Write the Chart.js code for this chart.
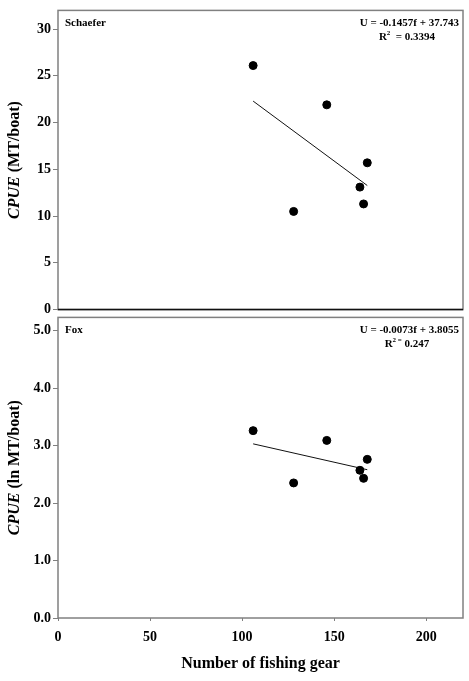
<!DOCTYPE html>
<html>
<head>
<meta charset="utf-8">
<script src="https://cdn.jsdelivr.net/npm/chart.js@4.4.0/dist/chart.umd.min.js"></script>
<style>
  html, body { margin: 0; padding: 0; background: #fff; }
  #wrap { position: relative; width: 469px; height: 681px; overflow: hidden; }
  canvas { position: absolute; left: 0; }
  #topChart { top: 0; }
  #bottomChart { top: 307px; }
</style>
</head>
<body>
<div id="wrap">
  <canvas id="topChart" width="469" height="320"></canvas>
  <canvas id="bottomChart" width="469" height="374"></canvas>
</div>
<script>
// Data
const gearCount = [106, 128, 146, 164, 166, 168];
const cpueSchaefer = [26.1, 10.5, 21.9, 13.1, 11.3, 15.7];   // MT/boat
const cpueFox = [3.26, 2.35, 3.09, 2.57, 2.43, 2.76];        // ln MT/boat

// Fitted lines (end points as drawn)
const trendGear = [106, 168];
const trendSchaefer = [22.3, 13.27];
const trendFox = [3.03, 2.58];

const xTicks = [0, 50, 100, 150, 200];
const schaeferTicks = [0, 5, 10, 15, 20, 25, 30];
const foxTicks = [0, 1, 2, 3, 4, 5];

const SERIF = "'Liberation Serif', 'Times New Roman', serif";
const FRAME = '#808080';

const toPoints = (xs, ys) => xs.map((x, i) => ({ x: x, y: ys[i] }));

// draw text made of several styled pieces
const drawRuns = (ctx, runs, x, y, align) => {
    let total = 0;
    runs.forEach(r => { ctx.font = r.font; r.w = ctx.measureText(r.text).width; total += r.w; });
    let cx = align === 'right' ? x - total : align === 'center' ? x - total / 2 : x;
    ctx.textBaseline = 'middle';
    ctx.textAlign = 'left';
    runs.forEach(r => {
        ctx.font = r.font;
        ctx.fillText(r.text, cx, y + (r.dy || 0));
        cx += r.w;
    });
};

const framePlugin = {
    id: 'frame',
    afterDraw(chart, args, opts) {
        const { ctx, chartArea: a } = chart;
        ctx.save();
        ctx.strokeStyle = FRAME;
        ctx.lineWidth = 1.5;
        ctx.strokeRect(a.left, a.top, a.right - a.left, a.bottom - a.top);
        if (opts.darkBottom) {
            ctx.strokeStyle = '#111';
            ctx.beginPath();
            ctx.moveTo(a.left, a.bottom);
            ctx.lineTo(a.right, a.bottom);
            ctx.stroke();
        }
        ctx.fillStyle = '#000';

        // y axis title, rotated
        ctx.save();
        ctx.translate(15, (a.top + a.bottom) / 2);
        ctx.rotate(-Math.PI / 2);
        drawRuns(ctx, [
            { text: 'CPUE', font: 'italic bold 16px ' + SERIF },
            { text: ' ' + opts.yUnit, font: 'bold 16px ' + SERIF }
        ], 0, 0, 'center');
        ctx.restore();

        // panel name and fitted equation
        drawRuns(ctx, [{ text: opts.name, font: 'bold 11px ' + SERIF }], a.left + 7, a.top + 13, 'left');
        drawRuns(ctx, [{ text: opts.equation, font: 'bold 11px ' + SERIF }], a.right - 4, a.top + 13, 'right');
        drawRuns(ctx, [
            { text: 'R', font: 'bold 11px ' + SERIF },
            { text: opts.rSup, font: 'bold 7px ' + SERIF, dy: -4 },
            { text: opts.rRest, font: 'bold 11px ' + SERIF }
        ], a.right - 56, a.top + 27, 'center');
        ctx.restore();
    }
};

const makeChart = (id, cfg) => new Chart(document.getElementById(id), {
    type: 'scatter',
    data: {
        datasets: [
            {
                data: toPoints(gearCount, cfg.values),
                backgroundColor: '#000',
                borderColor: '#000',
                pointRadius: 4,
                pointHoverRadius: 4
            },
            {
                type: 'line',
                data: toPoints(trendGear, cfg.trend),
                borderColor: '#111',
                borderWidth: 1,
                pointRadius: 0,
                fill: false
            }
        ]
    },
    options: {
        responsive: false,
        animation: false,
        layout: { padding: cfg.padding },
        plugins: {
            legend: { display: false },
            tooltip: { enabled: false },
            frame: cfg.frame
        },
        scales: {
            x: {
                type: 'linear',
                min: 0,
                max: 220,
                display: cfg.showX,
                afterBuildTicks: s => { s.ticks = xTicks.map(v => ({ value: v })); },
                afterFit: s => { if (cfg.showX) s.height = 63; },
                grid: { drawOnChartArea: false, tickLength: 3, color: FRAME },
                border: { display: false },
                ticks: {
                    color: '#000',
                    padding: 8,
                    font: { family: SERIF, size: 14, weight: 'bold' }
                },
                title: {
                    display: true,
                    text: 'Number of fishing gear',
                    color: '#000',
                    padding: { top: 1, bottom: 8 },
                    font: { family: SERIF, size: 16, weight: 'bold' }
                }
            },
            y: {
                type: 'linear',
                min: 0,
                max: cfg.yMax,
                afterBuildTicks: s => { s.ticks = cfg.yTicks.map(v => ({ value: v })); },
                afterFit: s => { s.width = 58; },
                grid: { drawOnChartArea: false, tickLength: 5, color: FRAME },
                border: { display: false },
                ticks: {
                    color: '#000',
                    padding: 2,
                    font: { family: SERIF, size: 14, weight: 'bold' },
                    callback: cfg.fmt
                }
            }
        }
    },
    plugins: [framePlugin]
});

makeChart('topChart', {
    values: cpueSchaefer,
    trend: trendSchaefer,
    yMax: 32,
    yTicks: schaeferTicks,
    fmt: v => String(v),
    showX: false,
    padding: { left: 0, right: 6, top: 10, bottom: 3 },
    frame: {
        darkBottom: true,
        yUnit: '(MT/boat)',
        name: 'Schaefer',
        equation: 'U = -0.1457f + 37.743',
        rSup: '2',
        rRest: '  = 0.3394'
    }
});

makeChart('bottomChart', {
    values: cpueFox,
    trend: trendFox,
    yMax: 5.23,
    yTicks: foxTicks,
    fmt: v => v.toFixed(1),
    showX: true,
    padding: { left: 0, right: 6, top: 5, bottom: 0 },
    frame: {
        darkBottom: false,
        yUnit: '(ln MT/boat)',
        name: 'Fox',
        equation: 'U = -0.0073f + 3.8055',
        rSup: '2 =',
        rRest: ' 0.247'
    }
});
</script>
</body>
</html>
